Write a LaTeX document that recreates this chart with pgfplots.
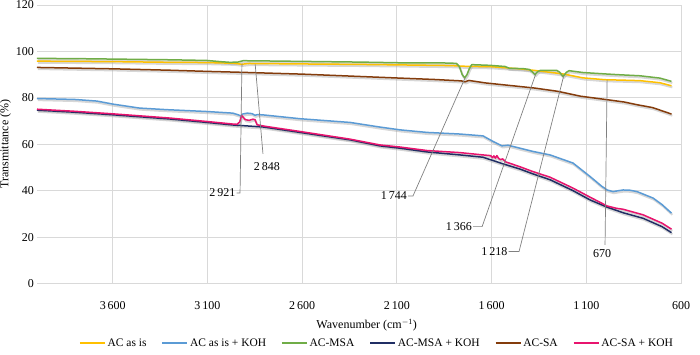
\documentclass[border=0pt]{standalone}
\usepackage{pgfplots}
\pgfplotsset{compat=1.18}
\usepackage{pgfplotstable}
\usepackage{fontspec}
\setmainfont{Liberation Serif}
\newcommand\ff{\fontsize{11.5pt}{13.5pt}\selectfont}
\newcommand\ft{\fontsize{12pt}{14pt}\selectfont}

\definecolor{cyel}{RGB}{255,192,0}
\definecolor{cblu}{RGB}{91,155,213}
\definecolor{cgrn}{RGB}{112,173,71}
\definecolor{cnav}{RGB}{32,46,100}
\definecolor{cbrn}{RGB}{132,60,12}
\definecolor{cpnk}{RGB}{232,20,110}
\definecolor{cgrid}{RGB}{217,217,217}
\definecolor{cann}{RGB}{128,128,128}

\pgfplotstableread{
w t
4000 95.8
3800 95.7
3599 95.6
3300 95.3
3102 95.2
2960 94.9
2930 94.6
2921 94.4
2905 94.6
2880 94.8
2600 94.6
2295 94.4
2000 94.1
1819 93.9
1740 93.6
1600 93.4
1450 92.5
1371 91.8
1223 90.3
1117 88.6
1000 87.8
900 87.6
816 87.4
711 86.5
650 85.2
}\tabYel

\pgfplotstableread{
w t
4000 97.0
3800 96.9
3599 96.7
3300 96.4
3102 96.1
3034 95.6
2981 95.3
2940 95.4
2912 96.0
2800 95.9
2596 95.7
2295 95.4
2083 95.1
1819 95.0
1785 94.8
1770 93.5
1755 90.0
1742 88.6
1730 90.0
1718 92.5
1705 94.3
1608 94.0
1529 93.5
1505 92.7
1434 92.6
1400 92.2
1385 91.2
1371 90.0
1358 91.2
1344 91.8
1255 91.8
1240 91.0
1223 89.2
1205 91.0
1191 91.7
1117 90.9
1000 90.3
938 90.0
816 89.5
711 88.5
650 87.1
}\tabGrn

\pgfplotstableread{
w t
4000 93.1
3800 92.8
3599 92.5
3300 91.9
3102 91.4
2921 91.0
2596 90.2
2295 89.2
2083 88.5
1900 87.9
1760 87.3
1740 86.9
1720 87.5
1630 86.4
1500 85.3
1371 84.2
1250 82.8
1130 80.7
990 79.2
900 78.2
830 77.0
750 75.8
650 73.0
}\tabBrn

\pgfplotstableread{
w t
4000 79.7
3800 79.3
3683 78.6
3599 77.3
3460 75.6
3315 74.9
3102 74.1
2965 73.4
2935 72.6
2925 72.2
2915 73.0
2890 73.4
2865 73.2
2849 72.5
2835 72.8
2800 72.6
2611 71.0
2347 69.4
2189 67.4
2083 66.2
1941 65.1
1767 64.4
1645 63.6
1592 61.2
1545 59.3
1513 59.6
1450 58.3
1381 56.9
1291 55.4
1170 51.9
1080 46.1
1020 42.0
990 40.3
959 39.6
906 40.3
870 40.2
832 39.6
747 36.8
700 34.0
650 30.3
}\tabBlu

\pgfplotstableread{
w t
4000 75.1
3800 74.2
3599 73.1
3300 71.3
3102 69.8
2965 68.7
2944 68.6
2930 69.6
2920 72.4
2910 71.5
2900 70.6
2880 70.3
2860 70.8
2849 70.6
2838 68.4
2800 67.8
2611 65.5
2347 62.2
2189 59.7
2083 58.8
1941 57.3
1767 56.4
1645 55.4
1605 55.1
1595 54.2
1588 55.0
1580 54.0
1572 55.1
1562 53.8
1552 53.4
1542 53.7
1525 52.4
1450 50.3
1381 48.2
1291 45.8
1170 41.1
1080 37.2
990 33.4
940 32.4
906 32.0
800 29.6
700 26.0
650 23.4
}\tabPnk

\pgfplotstableread{
w t
4000 74.7
3800 73.8
3599 72.7
3300 70.9
3102 69.4
2965 68.3
2800 67.4
2611 65.1
2347 61.9
2189 59.3
2083 58.3
1941 56.7
1767 55.4
1645 54.4
1530 51.3
1450 49.3
1381 47.2
1291 44.7
1170 40.0
1080 36.0
990 32.9
906 30.5
800 28.1
700 24.5
650 21.9
}\tabNav

\pgfplotsset{shadow/.style={forget plot, black!35, opacity=0.45, line width=2pt, yshift=-1.6pt, xshift=0.8pt}}

\begin{document}
\begin{tikzpicture}[font=\ff]
\useasboundingbox (-37pt,-70.5pt) rectangle (663pt,283.5pt);
\begin{axis}[
  at={(0pt,0pt)}, anchor=south west,
  scale only axis, width=644pt, height=278.5pt,
  xmin=600, xmax=4000, ymin=0, ymax=120,
  x dir=reverse,
  xtick={600,1100,1600,2100,2600,3100,3600},
  xticklabels={600,1\,100,1\,600,2\,100,2\,600,3\,100,3\,600},
  ytick={0,20,...,120},
  grid=major,
  major grid style={draw=cgrid, line width=0.8pt},
  axis line style={draw=none},
  tick style={draw=none},
  /pgf/number format/assume math mode=true,
  ticklabel style={font=\ft},
  xticklabel style={anchor=base, yshift=-25.5pt},
  yticklabel style={inner sep=3pt},
  label style={font=\ft},
  xlabel={Wavenumber (cm\textsuperscript{$-$1})},
  ylabel={Transmittance (\%)},
  xlabel style={at={(axis description cs:0.512,-0.149)}, anchor=center},
  ylabel style={at={(axis description cs:-0.049,0.5)}, anchor=center},
  legend columns=6,
  legend cell align=left,
  legend style={at={(axis description cs:0.528,-0.2136)}, anchor=center,
    draw=none, fill=none, font=\ff, inner sep=0pt,
    /tikz/every even column/.append style={column sep=13pt}},
  legend image code/.code={\draw[#1, line width=1.5pt] (0pt,0pt) -- (25pt,0pt);},
  every axis plot/.append style={line join=round},
]
% shadows
\addplot[shadow] table[x=w,y=t] {\tabYel};
\addplot[shadow] table[x=w,y=t] {\tabGrn};
\addplot[shadow] table[x=w,y=t] {\tabBrn};
\addplot[shadow] table[x=w,y=t] {\tabBlu};
\addplot[shadow] table[x=w,y=t] {\tabPnk};
\addplot[shadow] table[x=w,y=t] {\tabNav};

\addplot[cyel, line width=1.5pt] table[x=w,y=t] {\tabYel};
\addlegendentry{AC as is}
\addplot[cblu, line width=1.5pt] table[x=w,y=t] {\tabBlu};
\addlegendentry{AC as is + KOH}
\addplot[cgrn, line width=1.5pt] table[x=w,y=t] {\tabGrn};
\addlegendentry{AC-MSA}
\addplot[cnav, line width=1.5pt] table[x=w,y=t] {\tabNav};
\addlegendentry{AC-MSA + KOH}
\addplot[cbrn, line width=1.5pt] table[x=w,y=t] {\tabBrn};
\addlegendentry{AC-SA}
\addplot[cpnk, line width=1.5pt] table[x=w,y=t] {\tabPnk};
\addlegendentry{AC-SA + KOH}

% annotations
\draw[cann, line width=0.7pt] (axis cs:2918,94.7) -- (axis cs:2928,39.0) -- (axis cs:2946,39.0);
\node[anchor=east, inner sep=1pt, font=\ft] at (axis cs:2946,39.0) {2\,921};
\draw[cann, line width=0.7pt] (axis cs:2848,94.4) -- (axis cs:2807,55.9);
\node[inner sep=1pt, font=\ft] at (axis cs:2786,50.3) {2\,848};
\draw[cann, line width=0.7pt] (axis cs:1740,88.6) -- (axis cs:2015,37.7) -- (axis cs:2041,37.7);
\node[anchor=east, inner sep=1pt, font=\ft] at (axis cs:2041,37.7) {1\,744};
\draw[cann, line width=0.7pt] (axis cs:1368,90.0) -- (axis cs:1650,24.5) -- (axis cs:1698,24.5);
\node[anchor=east, inner sep=1pt, font=\ft] at (axis cs:1698,24.5) {1\,366};
\draw[cann, line width=0.7pt] (axis cs:1220,89.2) -- (axis cs:1455,13.8) -- (axis cs:1510,13.8);
\node[anchor=east, inner sep=1pt, font=\ft] at (axis cs:1510,13.8) {1\,218};
\draw[cann, line width=0.7pt] (axis cs:990,87.8) -- (axis cs:1001,16.6);
\node[inner sep=1pt, font=\ft] at (axis cs:1017,13.0) {670};
\end{axis}
\end{tikzpicture}
\end{document}
